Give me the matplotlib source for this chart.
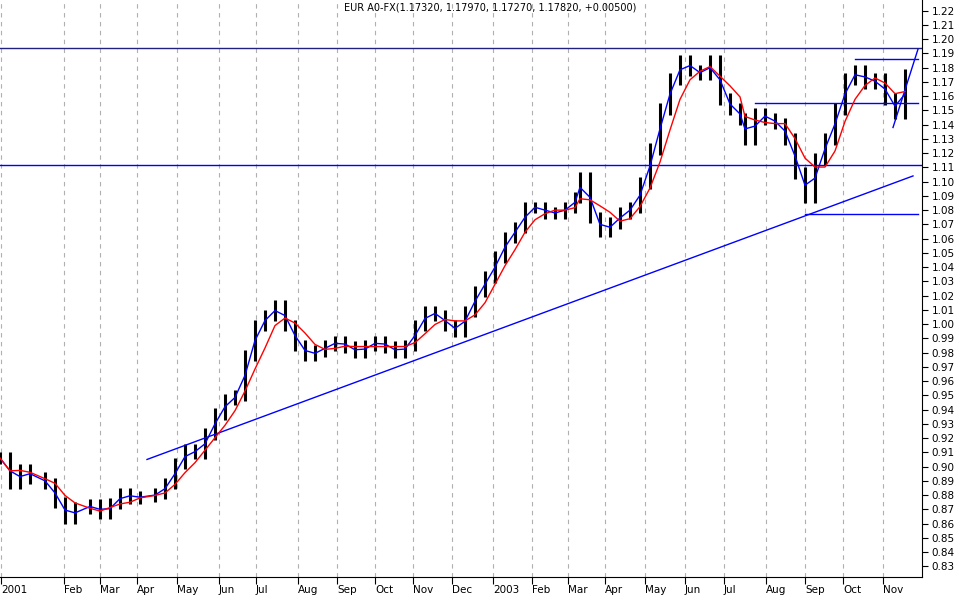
import matplotlib
matplotlib.use("Agg")
import matplotlib.pyplot as plt
import numpy as np
import pandas as pd

# x positions (chart pixel units along time axis) and closes
xs = [0,10,20,30,45,55,65,75,90,100,110,120,130,140,155,165,175,185,195,205,215,225,235,245,255,265,275,285,295,305,
      315,325,335,345,355,365,375,385,395,405,415,425,435,445,455,465,475,485,495,505,515,525,535,545,555,565,575,580,590,600,
      610,620,630,640,650,660,670,680,690,700,710,720,730,740,745,755,765,775,785,795,805,815,825,835,845,855,865,875,885,895,905]
closes = [0.906,0.888,0.898,0.892,0.888,0.875,0.864,0.871,0.873,0.867,0.874,0.881,0.878,0.879,0.881,0.888,0.902,0.912,0.909,0.923,
          0.937,0.947,0.950,0.978,0.999,1.006,1.013,0.999,0.985,0.978,0.981,0.985,0.988,0.984,0.980,0.985,0.988,0.984,0.980,0.985,
          0.999,1.009,1.006,0.999,0.995,1.009,1.023,1.033,1.047,1.061,1.068,1.082,1.082,1.078,1.078,1.082,1.089,1.103,1.075,1.065,
          1.071,1.078,1.082,1.099,1.123,1.151,1.172,1.185,1.178,1.175,1.185,1.158,1.151,1.144,1.130,1.148,1.144,1.141,1.130,1.106,
          1.089,1.116,1.130,1.151,1.172,1.178,1.169,1.172,1.158,1.148,1.175]
month_labels = ["2001","Feb","Mar","Apr","May","Jun","Jul","Aug","Sep","Oct","Nov","Dec",
                "2003","Feb","Mar","Apr","May","Jun","Jul","Aug","Sep","Oct","Nov"]
month_pos = [1,64,100,137,177,219,256,298,337,375,413,452,493,532,568,605,645,685,724,766,805,843,883]
hlines_full = [1.194, 1.112]
trend = ([147, 913], [0.905, 1.104])
steep = ([893, 918], [1.138, 1.193])
short_lines = [(855, 918, 1.186), (755, 918, 1.155), (805, 918, 1.077)]

W, H = 964, 599
fig = plt.figure(figsize=(W/100, H/100), dpi=100)
ax = fig.add_axes([0, 22/H, 922/W, 1-22/H])
ax.set_xlim(0, 922)
ax.set_ylim(0.8225, 1.2275)

for m in month_pos:
    ax.axvline(m, color="#b0b0b0", ls=(0, (4, 4)), lw=0.8, zorder=0)

c = np.array(closes)
opens = np.r_[c[0], c[:-1]]
lo = np.minimum(opens, c) - 0.004
hi = np.maximum(opens, c) + 0.004
ax.vlines(xs, lo, hi, color="black", lw=2.2, zorder=2)

s = pd.Series(closes)
ax.plot(xs, s.rolling(2, min_periods=1).mean(), color="blue", lw=1, zorder=3)
ax.plot(xs, s.rolling(4, min_periods=1).mean(), color="red", lw=1, zorder=3)

for y in hlines_full:
    ax.axhline(y, color="blue" if y < 1.19 else "#202080", lw=1)
ax.plot(*trend, color="blue", lw=1)
ax.plot(*steep, color="blue", lw=1)
for x0, x1, y in short_lines:
    ax.plot([x0, x1], [y, y], color="blue", lw=1)

ax.yaxis.tick_right()
ax.set_yticks(np.round(np.arange(0.83, 1.2201, 0.01), 2))
ax.set_yticklabels([f"{v:.2f}" for v in np.arange(0.83, 1.2201, 0.01)], fontsize=7.5)
ax.set_xticks(month_pos)
ax.set_xticklabels(month_labels, fontsize=7.5, ha="left")
ax.tick_params(axis="x", length=5, pad=1)
ax.tick_params(axis="y", length=4, pad=3)
for sp in ["top", "left"]:
    ax.spines[sp].set_visible(False)
ax.text(490, 1.222, "EUR A0-FX(1.17320, 1.17970, 1.17270, 1.17820, +0.00500)",
        ha="center", va="center", fontsize=7)
fig.savefig("out.png", dpi=100)
